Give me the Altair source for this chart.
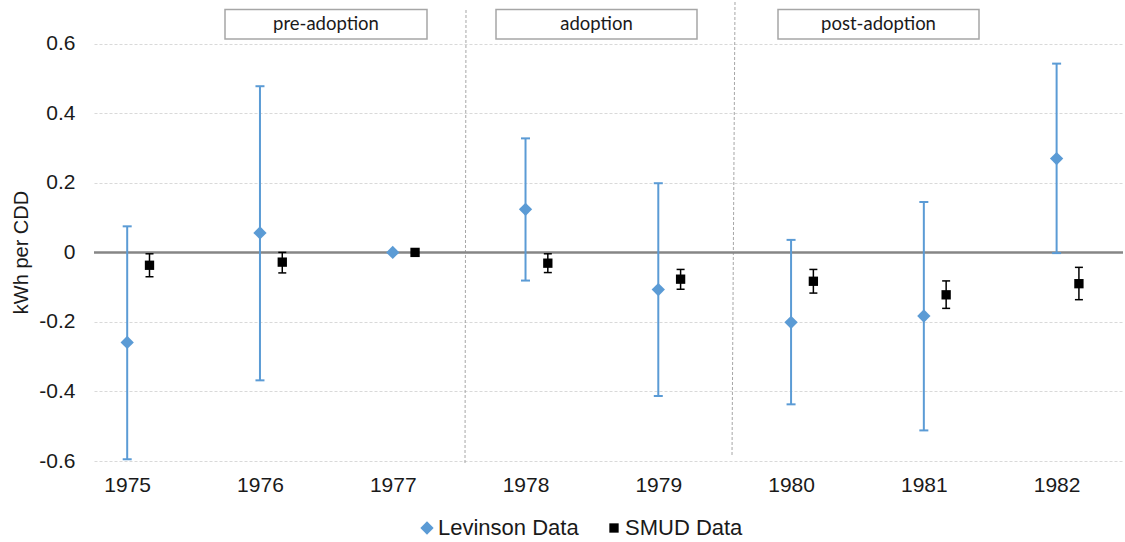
import altair as alt
import pandas as pd

# ---- data ----
years = [1975, 1976, 1977, 1978, 1979, 1980, 1981, 1982]
lev_mean = [-0.259, 0.056, 0.0, 0.124, -0.107, -0.201, -0.183, 0.270]
lev_low = [-0.595, -0.368, 0.0, -0.081, -0.413, -0.437, -0.512, -0.002]
lev_high = [0.075, 0.478, 0.0, 0.328, 0.199, 0.036, 0.145, 0.543]
smud_mean = [-0.037, -0.028, 0.0, -0.031, -0.077, -0.083, -0.122, -0.090]
smud_low = [-0.070, -0.059, 0.0, -0.058, -0.106, -0.117, -0.161, -0.136]
smud_high = [-0.004, 0.0, 0.0, -0.004, -0.049, -0.049, -0.082, -0.043]
series_names = ["Levinson Data", "SMUD Data"]
y_ticks = [-0.6, -0.4, -0.2, 0, 0.2, 0.4, 0.6]
phase_labels = ["pre-adoption", "adoption", "post-adoption"]

BLUE = "#5B9BD5"
TXT = "#1a1a1a"
FONT = "Liberation Sans"

lev = pd.DataFrame({"year": years, "mean": lev_mean, "low": lev_low,
                    "high": lev_high, "series": series_names[0]})
smud = pd.DataFrame({"year": years, "mean": smud_mean, "low": smud_low,
                     "high": smud_high, "series": series_names[1]})
allpts = pd.concat([lev, smud], ignore_index=True)

xs = alt.Scale(domain=[1974.75, 1982.5], nice=False, zero=False)
ys = alt.Scale(domain=[-0.6, 0.726], nice=False, zero=False)

xcalc = "datum.series == 'SMUD Data' ? datum.year + 0.168 : datum.year"

X = alt.X("xp:Q", scale=xs, axis=alt.Axis(
    values=years, format="d", title=None, grid=False, ticks=False, tickSize=0,
    domain=False, labelFontSize=21, labelFont=FONT, labelColor=TXT,
    labelPadding=13))

base = alt.Chart(allpts).transform_calculate(xp=xcalc)

# gridlines + y axis (drawn by an invisible layer)
axis_layer = base.mark_point(opacity=0).encode(
    x=X,
    y=alt.Y("mean:Q", scale=ys, axis=alt.Axis(
        values=y_ticks, title="kWh per CDD", grid=True, gridColor="#D9D9D9",
        gridDash=[3, 2], gridWidth=1, ticks=False, domain=False,
        labelFontSize=21, labelFont=FONT, labelColor=TXT, labelPadding=19,
        labelExpr="datum.value == 0 ? '0' : (datum.value < 0 ? '-' : '') + format(abs(datum.value), '.1f')",
        titleFontSize=20, titleFont=FONT, titleColor=TXT, titleFontWeight="normal",
        titleAngle=270, titleAlign="center", titleBaseline="middle",
        titleX=-73, titleY=252)),
)

zero_df = pd.DataFrame({"v": [0]})
zero_line = alt.Chart(zero_df).mark_rule(color="#868686", strokeWidth=2.5).encode(
    y=alt.Y("v:Q", scale=ys), x=alt.value(0), x2=alt.value(1029))

# phase separators (dashed, slightly slanted as in the reference)
sep1 = alt.Chart(zero_df).mark_rule(color="#A6A6A6", strokeWidth=1, strokeDash=[3, 2]).encode(
    x=alt.value(372), y=alt.value(10), x2=alt.value(371), y2=alt.value(463))
sep2 = alt.Chart(zero_df).mark_rule(color="#A6A6A6", strokeWidth=1, strokeDash=[3, 2]).encode(
    x=alt.value(641), y=alt.value(2), x2=alt.value(638), y2=alt.value(457))

# phase boxes
box_x = [(131, 333), (402, 603), (684, 885)]
boxes = []
for (bx1, bx2), lab in zip(box_x, phase_labels):
    boxes.append(alt.Chart(zero_df).mark_rect(fill="white", stroke="#A6A6A6", strokeWidth=1.5).encode(
        x=alt.value(bx1), x2=alt.value(bx2), y=alt.value(9.5), y2=alt.value(39)))
    boxes.append(alt.Chart(zero_df).mark_text(text=lab, font="Lato", fontSize=18.5, color=TXT,
                                              align="center", baseline="middle").encode(
        x=alt.value((bx1 + bx2) / 2), y=alt.value(24)))

bars_src = base.transform_filter("datum.low != datum.high")

lev_rule = bars_src.transform_filter("datum.series == 'Levinson Data'").mark_rule(
    color=BLUE, strokeWidth=2).encode(x=alt.X("xp:Q", scale=xs), y=alt.Y("low:Q", scale=ys), y2="high:Q")
lev_cap_lo = bars_src.transform_filter("datum.series == 'Levinson Data'").mark_tick(
    color=BLUE, orient="horizontal", size=9, thickness=2, opacity=1).encode(
    x=alt.X("xp:Q", scale=xs), y=alt.Y("low:Q", scale=ys))
lev_cap_hi = bars_src.transform_filter("datum.series == 'Levinson Data'").mark_tick(
    color=BLUE, orient="horizontal", size=9, thickness=2, opacity=1).encode(
    x=alt.X("xp:Q", scale=xs), y=alt.Y("high:Q", scale=ys))

sm_rule = bars_src.transform_filter("datum.series == 'SMUD Data'").mark_rule(
    color="black", strokeWidth=1.5).encode(x=alt.X("xp:Q", scale=xs), y=alt.Y("low:Q", scale=ys), y2="high:Q")
sm_cap_lo = bars_src.transform_filter("datum.series == 'SMUD Data'").mark_tick(
    color="black", orient="horizontal", size=8, thickness=1.5, opacity=1).encode(
    x=alt.X("xp:Q", scale=xs), y=alt.Y("low:Q", scale=ys))
sm_cap_hi = bars_src.transform_filter("datum.series == 'SMUD Data'").mark_tick(
    color="black", orient="horizontal", size=8, thickness=1.5, opacity=1).encode(
    x=alt.X("xp:Q", scale=xs), y=alt.Y("high:Q", scale=ys))

points = base.mark_point(filled=True, opacity=1, strokeWidth=0).encode(
    x=alt.X("xp:Q", scale=xs),
    y=alt.Y("mean:Q", scale=ys),
    color=alt.Color("series:N", scale=alt.Scale(domain=series_names, range=[BLUE, "black"]),
                    legend=alt.Legend(title=None, orient="none", legendX=322, legendY=517,
                                      direction="horizontal", labelFontSize=22, labelFont=FONT,
                                      labelColor=TXT, padding=0, columnPadding=24,
                                      labelOffset=0, symbolStrokeWidth=0)),
    shape=alt.Shape("series:N", scale=alt.Scale(domain=series_names, range=["diamond", "square"])),
    size=alt.Size("series:N", scale=alt.Scale(domain=series_names, range=[177, 87])),
)

chart = alt.layer(
    axis_layer, sep1, sep2, *boxes, zero_line,
    lev_rule, lev_cap_lo, lev_cap_hi, sm_rule, sm_cap_lo, sm_cap_hi, points
).properties(
    width=1029, height=461,
    autosize=alt.AutoSizeParams(type="none"),
    padding={"left": 94, "top": 0, "right": 2, "bottom": 81},
    background="white",
).configure_view(stroke=None)

chart.save("out.html", embed_options={"renderer": "svg", "actions": False})
